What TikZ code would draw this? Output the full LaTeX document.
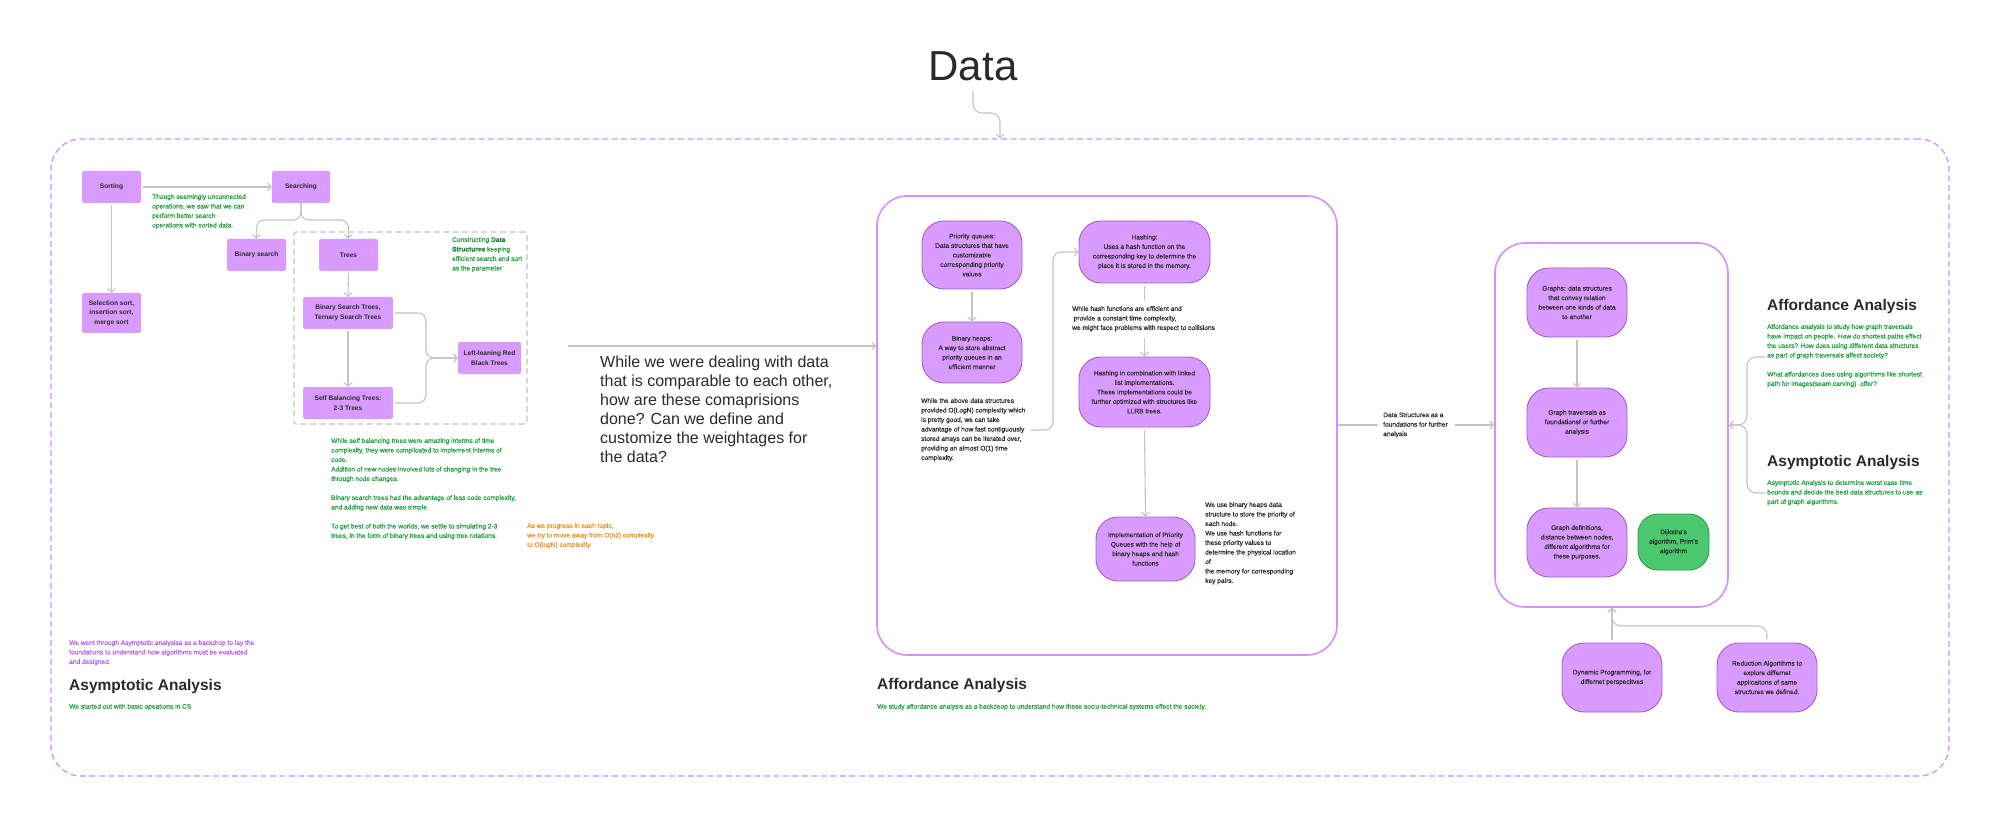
\documentclass[tikz,border=0pt]{standalone}
\usepackage{fontspec}
\setmainfont{Liberation Sans}
\newfontfamily\medfont{Liberation Sans}[FakeBold=0.25]
\usetikzlibrary{arrows.meta,calc}
\definecolor{nodefill}{HTML}{D99BFF}
\definecolor{nodeedge}{HTML}{A062C6}
\definecolor{gline}{HTML}{C4C4C4}
\definecolor{gtext}{HTML}{1E9E3E}
\definecolor{dgreen}{HTML}{13862E}
\definecolor{otext}{HTML}{F0901E}
\definecolor{ptext}{HTML}{B060F5}
\definecolor{framec}{HTML}{D590FF}
\definecolor{dtext}{HTML}{2A2A2A}
\definecolor{gfill}{HTML}{4CC96E}
\definecolor{gedge}{HTML}{2F9A4C}
\begin{document}
\begin{tikzpicture}[x=1pt,y=-1pt,
  small/.style={font=\medfont\fontsize{6.6}{9.5}\selectfont},
  box/.style={fill=nodefill, rounded corners=2pt, align=center, font=\bfseries\fontsize{6.6}{9.5}\selectfont, text=dtext, inner sep=0pt},
  pill/.style={fill=nodefill, draw=nodeedge, line width=0.9pt, rounded corners=22pt, align=center, small, text=dtext, inner sep=0pt},
  conn/.style={draw=gline, line width=1.1pt, -{Straight Barb[length=3.5pt,width=8pt]}},
  plain/.style={draw=gline, line width=1.1pt},
  note/.style={anchor=north west, align=left, inner sep=0pt, small},
  head/.style={anchor=west, inner sep=0pt, font=\bfseries\fontsize{15.5}{18}\selectfont, text=dtext},
  frame/.style={draw=framec, line width=1.6pt, rounded corners=30pt, inner sep=0pt}
]
\useasboundingbox[fill=white] (0,0) rectangle (2000,826);

% title
\node[font=\fontsize{42}{42}\selectfont, text=dtext, inner sep=0pt] (data) at (973,66) {Data};
\node[draw=framec, line width=1.3pt, dash pattern=on 6pt off 3.5pt, rounded corners=30pt, minimum width=1898pt, minimum height=637pt, inner sep=0pt] (outer) at (1000,457.5) {};
\draw[conn, rounded corners=9pt] ($(data.south)+(0,10)$) |- (1000,113) -- (outer.north);

% ---------- left section ----------
\node[draw=gline, line width=1.1pt, dash pattern=on 6pt off 3.5pt, rounded corners=2pt, minimum width=233pt, minimum height=192pt, inner sep=0pt] (dbox) at (410.5,328) {};
\node[box, minimum width=59pt, minimum height=32pt] (sorting) at (111.5,187) {Sorting};
\node[box, minimum width=58pt, minimum height=32pt] (searching) at (301,187) {Searching};
\node[box, minimum width=59pt, minimum height=32pt] (binsearch) at (256.5,255) {Binary search};
\node[box, minimum width=59pt, minimum height=32pt] (trees) at (348.5,255) {Trees};
\node[box, minimum width=59pt, minimum height=40pt] (selsort) at (111.5,313) {Selection sort,\\insertion sort,\\merge sort};
\node[box, minimum width=90pt, minimum height=32pt] (bst) at (348,313) {Binary Search Trees,\\Ternary Search Trees};
\node[box, minimum width=90pt, minimum height=32pt] (sbt) at (348,403) {Self Balancing Trees:\\2-3 Trees};
\node[box, minimum width=63pt, minimum height=32pt] (llrb) at (489.5,358) {Left-leaning Red\\Black Trees};

\draw[conn, shorten <=2pt] (sorting.east) -- (searching.west);
\draw[conn, shorten <=2pt] (sorting.south) -- (selsort.north);
\draw[conn, rounded corners=8pt] (searching.south) -- (301,220) -| (binsearch.north);
\draw[conn, rounded corners=8pt] (searching.south) -- (301,220) -| (trees.north);
\draw[conn, shorten <=2pt] (trees.south) -- (bst.north);
\draw[conn, shorten <=2pt] (bst.south) -- (sbt.north);
\draw[conn, rounded corners=8pt] ($(bst.east)+(2,0)$) -| (426,358) -- (llrb.west);
\draw[conn, rounded corners=8pt] ($(sbt.east)+(2,0)$) -| (426,358) -- (llrb.west);

\node[note, text=gtext] (t1) at (152,194) {Though seemingly unconnected\\operations, we saw that we can\\perform better search\\operations with sorted data.};
\node[note, text=gtext] (t2) at (452,237) {Constructing \textcolor{dgreen}{\bfseries Data}\\\textcolor{dgreen}{\bfseries Structures} keeping\\efficient search and sort\\as the parameter};
\node[note, text=gtext] (t3) at (331,438) {While self balancing trees were amazing interms of time\\complexity, they were complicated to implement interms of\\code.\\Addition of new nodes involved lots of changing in the tree\\through node changes.\\[9.5pt]Binary search trees had the advantage of less code complexity,\\and adding new data was simple.\\[9.5pt]To get best of both the worlds, we settle to simulating 2-3\\trees, in the form of binary trees and using tree rotations.};
\node[note, text=otext] (t4) at (527,523) {As we progress in each topic,\\we try to move away from O(n2) complexity\\to O(logN) complexity};
\node[note, text=ptext] (t5) at (69,640) {We went through Asymptotic analysisa as a backdrop to lay the\\foundations to understand how algorithms must be evaluated\\and designed.};
\node[head] (h1) at (69,686) {Asymptotic Analysis};
\node[anchor=west, inner sep=0pt, small, text=gtext] (t6) at (69,707) {We started out with basic opeations in CS};

% question
\node[anchor=north west, align=left, inner sep=0pt, font=\fontsize{16}{19}\selectfont, text=dtext] (q) at (600,356) {While we were dealing with data\\that is comparable to each other,\\how are these comaprisions\\done? Can we define and\\customize the weightages for\\the data?};
\coordinate (qa) at (568,346);

% ---------- middle section ----------
\node[frame, minimum width=460pt, minimum height=459pt] (bigbox) at (1107,425.5) {};
\draw[conn] (qa) -- (qa -| bigbox.west);

\node[pill, minimum width=100pt, minimum height=68pt] (pq) at (972,255) {Priority queues:\\Data structures that have\\customizable\\corresponding priority\\values};
\node[pill, minimum width=100pt, minimum height=61pt] (bh) at (972,352.5) {Binary heaps:\\A way to store abstract\\priority queues in an\\efficient manner};
\node[pill, minimum width=131pt, minimum height=62pt] (hash) at (1144.5,252) {Hashing:\\Uses a hash function on the\\corresponding key to determine the\\place it is stored in the memory.};
\node[pill, minimum width=131pt, minimum height=70pt] (hashll) at (1144.5,392) {Hashing in combination with linked\\list implementations.\\These implementations could be\\further optimized with structures like\\LLRB trees.};
\node[pill, minimum width=99pt, minimum height=64pt] (impl) at (1145.5,549) {Implementation of Priority\\Queues with the help of\\binary heaps and hash\\functions};

\node[note, text=dtext] (t7) at (921,398) {While the above data structures\\provided O(LogN) complexity which\\is pretty good, we can take\\advantage of how fast contiguously\\stored arrays can be iterated over,\\providing an almost O(1) time\\complexity.};
\coordinate (c1) at (1031,430);
\node[note, text=dtext] (hashtxt) at (1072,306) {While hash functions are efficient and\\\hspace*{1.5pt}provide a constant time complexity,\\we might face problems with respect to collisions};
\node[note, text=dtext] (t8) at (1205,502) {We use binary heaps data\\structure to store the priority of\\each node.\\We use hash functions for\\these priority values to\\determine the physical location\\of\\the memory for corresponding\\key pairs.};

\draw[conn, shorten <=3pt] (pq.south) -- (bh.north);
\draw[conn, rounded corners=8pt] (c1) -- (1053,430) |- (hash.west);
\draw[plain, shorten <=3pt] (hash.south) -- (1144.5,301);
\draw[conn] (1144.5,338) -- (hashll.north);
\draw[conn, shorten <=3pt] (hashll.south) -- (impl.north);

\node[head] (h2) at (877,685) {Affordance Analysis};
\node[anchor=west, inner sep=0pt, small, text=gtext] (t9) at (877,707) {We study affordance analysis as a backdeop to understand how these socio-technical systems effect the society.};

% ---------- right section ----------
\node[frame, minimum width=233pt, minimum height=364pt] (rightbox) at (1611.5,425) {};
\node[note, anchor=west, text=dtext] (dstxt) at (1383,425) {Data Structures as a\\foundations for further\\analysis};
\draw[plain] (dstxt.west -| bigbox.east) -- ($(dstxt.west)+(-5,0)$);
\draw[conn] ($(dstxt.west)+(72,0)$) -- (dstxt.west -| rightbox.west);

\node[pill, minimum width=100pt, minimum height=69pt] (graphs) at (1577,302.5) {Graphs: data structures\\that convey relation\\between one kinds of data\\to another};
\node[pill, minimum width=100pt, minimum height=69pt] (trav) at (1577,422.5) {Graph traversals as\\foundationsf or further\\analysis};
\node[pill, minimum width=100pt, minimum height=69pt] (defs) at (1577,542.5) {Graph definitions,\\distance between nodes,\\different algorithms for\\these purposes.};
\node[pill, fill=gfill, draw=gedge, rounded corners=20pt, minimum width=71pt, minimum height=56pt] (dijk) at (1673.5,542) {Dijkstra's\\algorithm, Prim's\\algorithm};
\node[pill, minimum width=100pt, minimum height=69pt] (dp) at (1612,677.5) {Dynamic Programming, for\\differnet perspecitves};
\node[pill, minimum width=100pt, minimum height=69pt] (red) at (1767,677.5) {Reduction Algorithms to\\explore differnet\\applicaitons of same\\structures we defined.};

\draw[conn, shorten <=3pt] (graphs.south) -- (trav.north);
\draw[conn, shorten <=3pt] (trav.south) -- (defs.north);
\draw[conn, shorten <=3pt] (dp.north) -- (dp.north |- rightbox.south);
\draw[conn, rounded corners=9pt, shorten <=3pt] (red.north) |- (1612,626) -- (dp.north |- rightbox.south);

\node[head] (h3) at (1767,306) {Affordance Analysis};
\node[note, text=gtext] (t10) at (1767,324) {Affordance analysis to study how graph traversals\\have impact on people. How do shortest paths effect\\the users? How does using different data structures\\as part of graph traversals affect society?\\[9.5pt]What affordances does using algorithms like shortest\\path for images(seam carving)\ \ offer?};
\node[head] (h4) at (1767,462) {Asymptotic Analysis};
\node[note, text=gtext] (t11) at (1767,480) {Asymptotic Analysis to determine worst case time\\bounds and decide the best data structures to use as\\part of graph algorithms.};
\coordinate (b1) at (1765,357);
\coordinate (b2) at (1765,493);
\draw[conn, rounded corners=9pt] (b1) -- (1747,357) -- (1747,425) -- (rightbox.east);
\draw[conn, rounded corners=9pt] (b2) -- (1747,493) -- (1747,425) -- (rightbox.east);
\end{tikzpicture}
\end{document}
